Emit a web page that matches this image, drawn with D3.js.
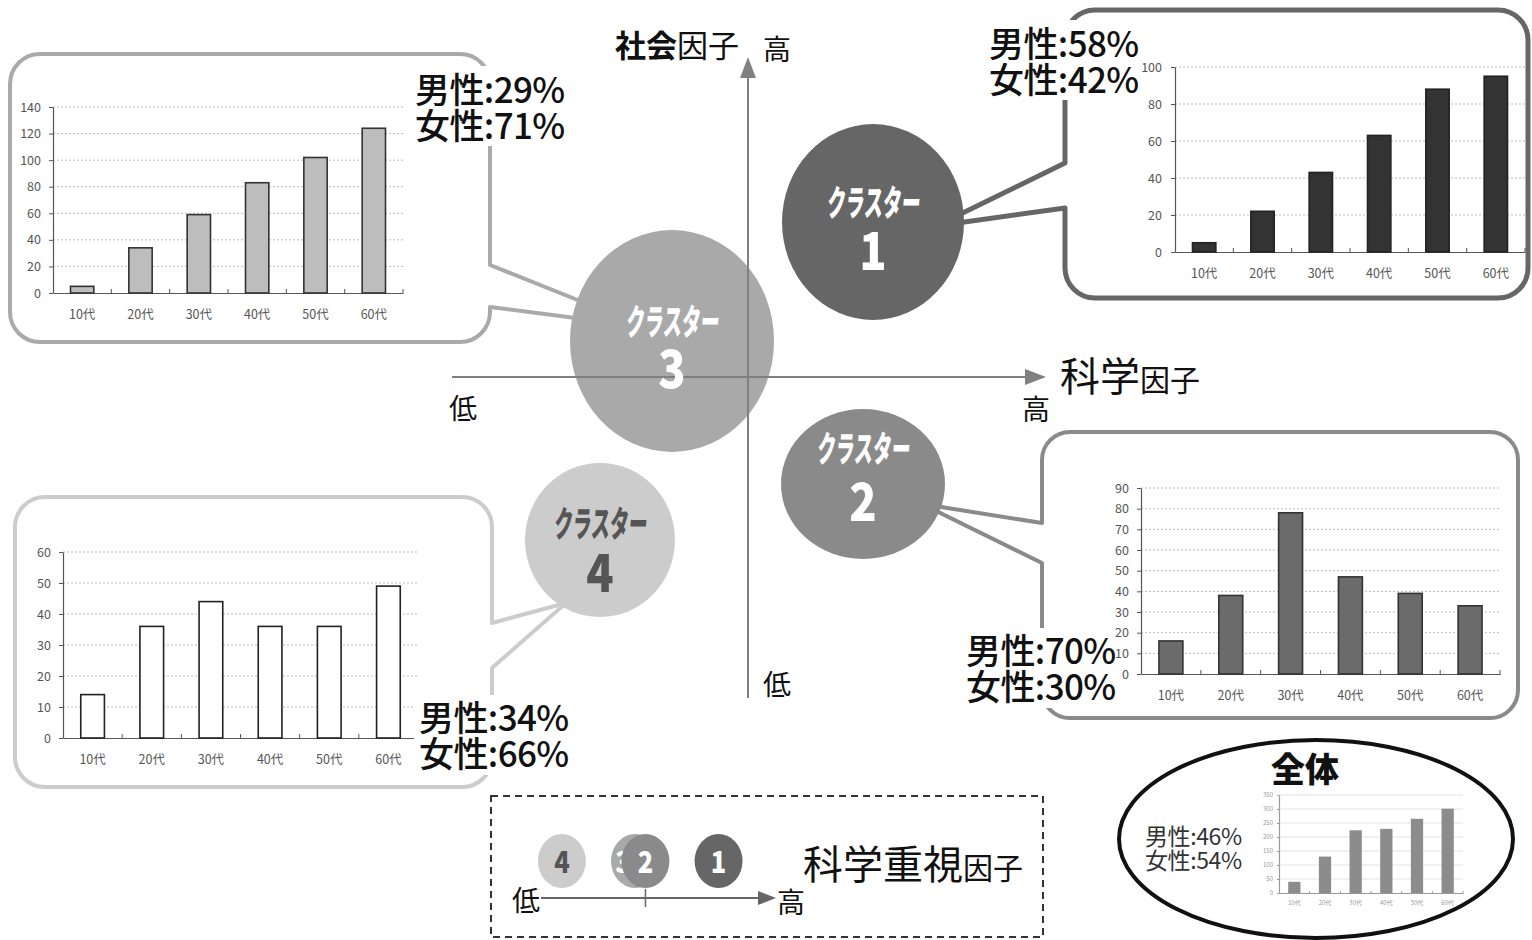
<!DOCTYPE html>
<html>
<head>
<meta charset="utf-8">
<script src="https://cdn.jsdelivr.net/npm/d3@7"></script>
<style>
  html, body { margin: 0; padding: 0; background: #fff; }
  svg { display: block; }
  text { font-family: "Noto Sans CJK JP", "Noto Sans", sans-serif; }
</style>
</head>
<body>
<svg id="chart" width="1532" height="940"></svg>
<script>
// ---- data ----
const ageGroups = ["10代", "20代", "30代", "40代", "50代", "60代"];

const cluster1Counts = [5, 22, 43, 63, 88, 95];
const cluster2Counts = [16, 38, 78, 47, 39, 33];
const cluster3Counts = [5, 34, 59, 83, 102, 124];
const cluster4Counts = [14, 36, 44, 36, 36, 49];
const overallCounts  = [40, 130, 224, 229, 265, 301];

const cluster1Ticks = [0, 20, 40, 60, 80, 100];
const cluster2Ticks = [0, 10, 20, 30, 40, 50, 60, 70, 80, 90];
const cluster3Ticks = [0, 20, 40, 60, 80, 100, 120, 140];
const cluster4Ticks = [0, 10, 20, 30, 40, 50, 60];
const overallTicks  = [0, 50, 100, 150, 200, 250, 300, 350];

const clusterIds   = ["1", "2", "3", "4"];
const maleShare    = [58, 70, 29, 34];
const femaleShare  = [42, 30, 71, 66];
const overallMale   = 46;
const overallFemale = 54;

// position of each cluster on the science-emphasis scale (0 = tick mark)
const scienceClusters = ["4", "3", "2", "1"];
const scienceScores   = [-0.8, -0.1, 0, 0.7];

// ---- drawing ----
const svg = d3.select("#chart");
const JP = '"Noto Sans CJK JP", "Noto Sans", sans-serif';

function calloutPath(b) {
  const { x0, y0, x1, y1, r, side, pA, pB, tip } = b;
  const p = d3.path();
  p.moveTo(x0 + r, y0);
  p.lineTo(x1 - r, y0);
  p.arcTo(x1, y0, x1, y0 + r, r);
  if (side === "right") { p.lineTo(x1, pA); p.lineTo(tip[0], tip[1]); p.lineTo(x1, pB); }
  p.lineTo(x1, y1 - r);
  p.arcTo(x1, y1, x1 - r, y1, r);
  p.lineTo(x0 + r, y1);
  p.arcTo(x0, y1, x0, y1 - r, r);
  if (side === "left") { p.lineTo(x0, pB); p.lineTo(tip[0], tip[1]); p.lineTo(x0, pA); }
  p.lineTo(x0, y0 + r);
  p.arcTo(x0, y0, x0 + r, y0, r);
  p.closePath();
  return p.toString();
}

function barChart(values, ticks, c) {
  const g = svg.append("g");
  const x = d3.scaleBand().domain(ageGroups).range([c.left, c.right])
    .paddingInner(0.6).paddingOuter(0.3);
  const y = d3.scaleLinear().domain([0, d3.max(ticks)]).range([c.bottom, c.top]);

  g.selectAll("line.grid").data(ticks.filter(t => t > 0)).join("line")
    .attr("class", "grid")
    .attr("x1", c.left).attr("x2", c.right)
    .attr("y1", d => y(d)).attr("y2", d => y(d))
    .attr("stroke", c.grid).attr("stroke-width", 1)
    .attr("stroke-dasharray", c.gridDash || null);

  const ya = g.append("g").attr("transform", `translate(${c.left},0)`)
    .call(d3.axisLeft(y).tickValues(ticks).tickSize(c.tick).tickSizeOuter(0).tickPadding(c.yPad));
  ya.select(".domain").attr("stroke", c.axis).attr("stroke-width", 1.2);
  ya.selectAll(".tick line").attr("stroke", c.axis);
  ya.selectAll(".tick text").attr("fill", c.label).attr("font-size", c.font).attr("font-family", JP);

  const xa = g.append("g").attr("transform", `translate(0,${c.bottom})`)
    .call(d3.axisBottom(x).tickSize(0).tickSizeOuter(0).tickPadding(c.xPad));
  xa.select(".domain").attr("stroke", c.axis).attr("stroke-width", 1.2);
  xa.selectAll(".tick text").attr("fill", c.label).attr("font-size", c.font).attr("font-family", JP);

  // category boundary ticks
  const bounds = ageGroups.slice(1).map(d => x(d) - x.step() * x.paddingInner() / 2).concat([c.right]);
  g.selectAll("line.btick").data(bounds).join("line")
    .attr("class", "btick")
    .attr("x1", d => d).attr("x2", d => d)
    .attr("y1", c.bottom).attr("y2", c.bottom - c.tick)
    .attr("stroke", c.axis).attr("stroke-width", 1);

  g.selectAll("rect.bar").data(values).join("rect")
    .attr("class", "bar")
    .attr("x", (d, i) => x(ageGroups[i]))
    .attr("y", d => y(d))
    .attr("width", x.bandwidth())
    .attr("height", d => y(0) - y(d))
    .attr("fill", c.barFill)
    .attr("stroke", c.barStroke || "none")
    .attr("stroke-width", c.barStroke ? 1.6 : 0);
}

function genderLabel(i, x, base1, size, bg) {
  svg.append("rect").attr("x", bg[0]).attr("y", bg[1]).attr("width", bg[2]).attr("height", bg[3]).attr("fill", "#fff");
  const t = svg.append("text").attr("font-family", JP).attr("font-size", size).attr("font-weight", 500)
    .attr("letter-spacing", -0.6).attr("fill", "#111");
  t.append("tspan").attr("x", x).attr("y", base1).text(`男性:${maleShare[i]}%`);
  t.append("tspan").attr("x", x).attr("y", base1 + 36).text(`女性:${femaleShare[i]}%`);
}

// callout frames
const frames = [
  { x0: 10, y0: 54, x1: 490, y1: 342, r: 30, side: "right", pA: 265, pB: 307, tip: [645, 327], stroke: "#aaaaaa", w: 4 },
  { x0: 1065, y0: 10, x1: 1528, y1: 298, r: 30, side: "left", pA: 163, pB: 208, tip: [936, 226], stroke: "#666666", w: 5 },
  { x0: 1042, y0: 432, x1: 1518, y1: 718, r: 28, side: "left", pA: 523, pB: 563, tip: [922, 504], stroke: "#8a8a8a", w: 4 },
  { x0: 15, y0: 497, x1: 492, y1: 787, r: 30, side: "right", pA: 623, pB: 668, tip: [566, 603], stroke: "#cccccc", w: 4 }
];
frames.forEach(f => {
  svg.append("path").attr("d", calloutPath(f)).attr("fill", "#fff")
    .attr("stroke", f.stroke).attr("stroke-width", f.w).attr("stroke-linejoin", "round");
});

// bar charts
barChart(cluster3Counts, cluster3Ticks, { left: 53, right: 403, top: 107, bottom: 293, tick: 4, yPad: 8, xPad: 17, font: 12.5,
  axis: "#555", label: "#555", grid: "#bbb", gridDash: "2,2", barFill: "#bdbdbd", barStroke: "#333" });
barChart(cluster1Counts, cluster1Ticks, { left: 1175, right: 1525, top: 67, bottom: 252, tick: 4, yPad: 9, xPad: 17, font: 12.5,
  axis: "#555", label: "#555", grid: "#bbb", gridDash: "2,2", barFill: "#333", barStroke: "#222" });
barChart(cluster2Counts, cluster2Ticks, { left: 1141, right: 1500, top: 488, bottom: 674, tick: 4, yPad: 8, xPad: 17, font: 12.5,
  axis: "#555", label: "#555", grid: "#bbb", gridDash: "2,2", barFill: "#6b6b6b", barStroke: "#333" });
barChart(cluster4Counts, cluster4Ticks, { left: 63, right: 418, top: 552, bottom: 738, tick: 4, yPad: 8, xPad: 17, font: 12.5,
  axis: "#555", label: "#555", grid: "#bbb", gridDash: "2,2", barFill: "#fff", barStroke: "#222" });

// overall panel
svg.append("ellipse").attr("cx", 1316).attr("cy", 839).attr("rx", 197).attr("ry", 99)
  .attr("fill", "#fff").attr("stroke", "#111").attr("stroke-width", 4);
barChart(overallCounts, overallTicks, { left: 1279, right: 1463, top: 795, bottom: 893, tick: 2, yPad: 4, xPad: 8, font: 6,
  axis: "#999", label: "#999", grid: "#e2e2e2", gridDash: null, barFill: "#8c8c8c", barStroke: null });
svg.append("text").attr("x", 1305).attr("y", 782).attr("text-anchor", "middle")
  .attr("font-family", JP).attr("font-size", 34).attr("font-weight", 900).attr("fill", "#111").text("全体");
const ov = svg.append("text").attr("font-family", JP).attr("font-size", 23).attr("letter-spacing", -0.4).attr("fill", "#333");
ov.append("tspan").attr("x", 1145).attr("y", 845).text(`男性:${overallMale}%`);
ov.append("tspan").attr("x", 1145).attr("y", 869).text(`女性:${overallFemale}%`);

// gender shares per cluster
genderLabel(2, 415, 103, 35, [410, 66, 156, 80]);
genderLabel(0, 989, 57, 35, [984, 20, 156, 80]);
genderLabel(1, 966, 664, 35, [962, 628, 153, 80]);
genderLabel(3, 419, 731, 35, [414, 695, 156, 80]);

// cluster bubbles
const bubbles = [
  { id: "1", cx: 873, cy: 222, rx: 91, ry: 98, fill: "#666666", ink: "#fff", titleY: 216, numY: 270 },
  { id: "2", cx: 863, cy: 484, rx: 82, ry: 75, fill: "#8a8a8a", ink: "#fff", titleY: 462, numY: 521 },
  { id: "3", cx: 672, cy: 341, rx: 102, ry: 111, fill: "#a9a9a9", ink: "#fff", titleY: 335, numY: 388 },
  { id: "4", cx: 600, cy: 540, rx: 75, ry: 77, fill: "#cccccc", ink: "#555", titleY: 537, numY: 592 }
];
bubbles.forEach(b => {
  svg.append("ellipse").attr("cx", b.cx).attr("cy", b.cy).attr("rx", b.rx).attr("ry", b.ry).attr("fill", b.fill);
});

// factor axes
const axisColor = "#808080";
svg.append("line").attr("x1", 748).attr("x2", 748).attr("y1", 698).attr("y2", 74).attr("stroke", axisColor).attr("stroke-width", 2);
svg.append("path").attr("d", "M748,57 L740,78 L756,78 Z").attr("fill", axisColor);
svg.append("line").attr("x1", 452).attr("x2", 1030).attr("y1", 377).attr("y2", 377).attr("stroke", axisColor).attr("stroke-width", 2);
svg.append("path").attr("d", "M1046,377 L1025,369 L1025,385 Z").attr("fill", axisColor);

function label(x, y, size, parts, anchor) {
  const t = svg.append("text").attr("x", x).attr("y", y).attr("font-family", JP).attr("fill", "#111")
    .attr("text-anchor", anchor || "start");
  parts.forEach(p => t.append("tspan").attr("font-size", p[1]).attr("font-weight", p[2] || 400).text(p[0]));
}
label(615, 57, 31, [["社会", 31, 700], ["因子", 31, 400]]);
label(763, 60, 28, [["高", 28]]);
label(449, 419, 28, [["低", 28]]);
label(1022, 420, 28, [["高", 28]]);
label(763, 695, 28, [["低", 28]]);
label(1060, 391, 40, [["科学", 40], ["因子", 30]]);

bubbles.forEach(b => {
  svg.append("text").attr("transform", `translate(${b.cx},${b.titleY}) scale(0.52,1) skewX(-8)`)
    .attr("text-anchor", "middle").attr("font-family", JP).attr("font-size", 36).attr("font-weight", 900)
    .attr("fill", b.ink).text("クラスター");
  svg.append("text").attr("transform", `translate(${b.cx},${b.numY}) scale(0.85,1)`)
    .attr("text-anchor", "middle").attr("font-family", JP).attr("font-size", 53).attr("font-weight", 900)
    .attr("fill", b.ink).text(b.id);
});

// science-emphasis strip
svg.append("rect").attr("x", 491).attr("y", 796).attr("width", 552).attr("height", 141)
  .attr("fill", "none").attr("stroke", "#333").attr("stroke-width", 2).attr("stroke-dasharray", "7,5");
const sx = d3.scaleLinear().domain([-1, 1.25]).range([541, 776]);
svg.append("line").attr("x1", sx(-1)).attr("x2", sx(1.25) - 16).attr("y1", 898).attr("y2", 898)
  .attr("stroke", "#666").attr("stroke-width", 2);
svg.append("path").attr("d", `M${sx(1.25)},898 L${sx(1.25) - 18},891 L${sx(1.25) - 18},905 Z`).attr("fill", "#666");
svg.append("line").attr("x1", sx(0)).attr("x2", sx(0)).attr("y1", 889).attr("y2", 907).attr("stroke", "#666").attr("stroke-width", 1.5);
const stripFill = { "1": "#666666", "2": "#8a8a8a", "3": "#a9a9a9", "4": "#cccccc" };
const stripInk  = { "1": "#fff", "2": "#fff", "3": "#fff", "4": "#555" };
const stripOffset = { "1": 0, "2": 0, "3": -12, "4": 0 };
scienceClusters.forEach((id, i) => {
  const cx = sx(scienceScores[i]);
  svg.append("ellipse").attr("cx", cx).attr("cy", 861).attr("rx", 24).attr("ry", 27).attr("fill", stripFill[id]);
  svg.append("text").attr("transform", `translate(${cx + stripOffset[id]},873) scale(0.85,1)`)
    .attr("text-anchor", "middle").attr("font-family", JP).attr("font-size", 30).attr("font-weight", 900)
    .attr("fill", stripInk[id]).text(id);
});
label(512, 911, 28, [["低", 28]]);
label(777, 913, 28, [["高", 28]]);
label(803, 879, 40, [["科学重視", 40], ["因子", 30]]);
</script>
</body>
</html>
